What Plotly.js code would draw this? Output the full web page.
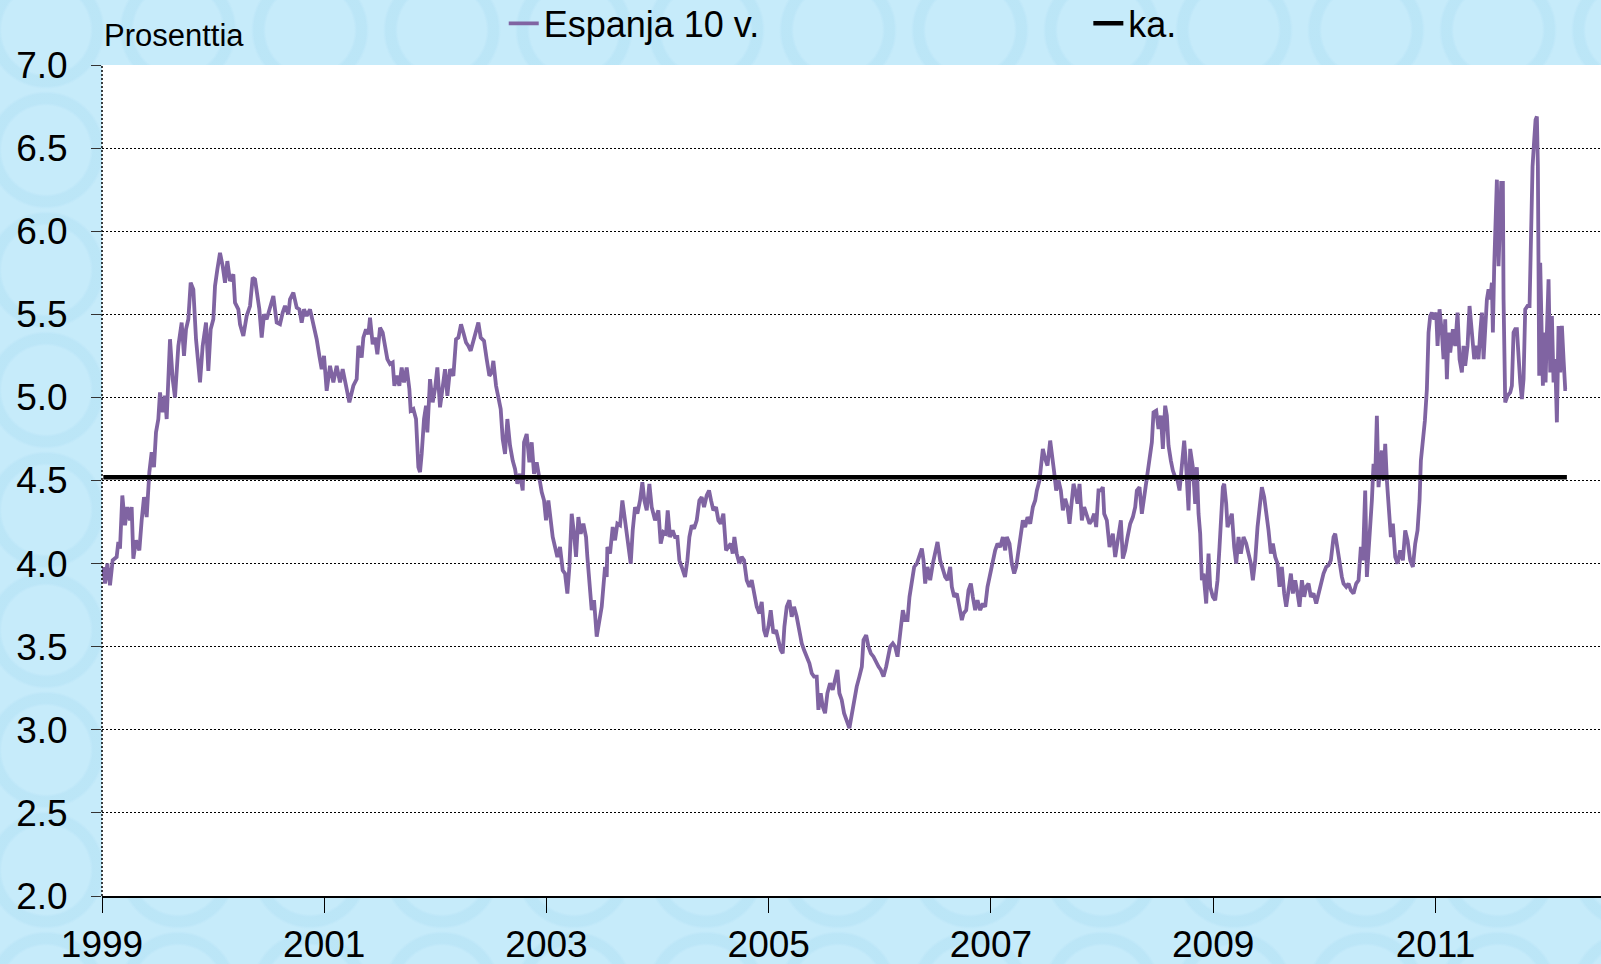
<!DOCTYPE html>
<html>
<head>
<meta charset="utf-8">
<script src="https://cdn.plot.ly/plotly-3.0.1.min.js"></script>
<style>
  html, body { margin: 0; padding: 0; }
  body {
    background-color: #c6ebfa;
    background-image:
      radial-gradient(circle at 50% 50%, rgba(0,0,0,0) 44px, rgba(160,215,240,0.28) 47px, rgba(160,215,240,0.28) 56px, rgba(0,0,0,0) 59px);
    background-size: 132px 120px;
    background-position: -20px -30px;
  }
  #chart { width: 1601px; height: 964px; }
</style>
</head>
<body>
<div id="chart"></div>
<script>
// ---- Data: Spanish 10-year government bond yield (%) ----
const seriesName = "Espanja 10 v.";
const avgName = "ka.";
const avgValue = 4.52;
const yAxisLabel = "Prosenttia";
const xTickYears = [1999, 2001, 2003, 2005, 2007, 2009, 2011];
const yTickValues = [2.0, 2.5, 3.0, 3.5, 4.0, 4.5, 5.0, 5.5, 6.0, 6.5, 7.0];

// 1999 – early 2001
const years1 = [1999.012,1999.027,1999.048,1999.072,1999.096,1999.132,1999.147,1999.162,1999.183,1999.207,
  1999.228,1999.252,1999.267,1999.282,1999.306,1999.336,1999.357,1999.378,1999.402,1999.426,
  1999.447,1999.468,1999.486,1999.507,1999.522,1999.546,1999.567,1999.582,1999.612,1999.636,
  1999.657,1999.687,1999.717,1999.738,1999.756,1999.777,1999.798,1999.822,1999.846,1999.882,
  1999.906,1999.936,1999.957,1999.978,2000.002,2000.017,2000.038,2000.062,2000.086,2000.107,
  2000.128,2000.152,2000.182,2000.197,2000.227,2000.242,2000.272,2000.302,2000.332,2000.356,
  2000.377,2000.398,2000.416,2000.437,2000.458,2000.482,2000.512,2000.542,2000.572,2000.602,
  2000.626,2000.647,2000.677,2000.692,2000.722,2000.752,2000.776,2000.797,2000.818,2000.842,
  2000.872,2000.902,2000.932,2000.956,2000.977,2000.998,2001.022,2001.052,2001.082,2001.112,
  2001.142,2001.166,2001.196,2001.226];
const values1 = [3.98,3.88,4.00,3.87,4.02,4.04,4.13,4.09,4.41,4.23,
  4.34,4.26,4.34,4.03,4.14,4.08,4.26,4.40,4.28,4.55,
  4.67,4.58,4.79,4.87,5.03,4.91,5.01,4.87,5.35,5.11,
  5.00,5.31,5.45,5.25,5.41,5.47,5.69,5.65,5.35,5.09,
  5.31,5.45,5.16,5.41,5.47,5.67,5.77,5.87,5.79,5.69,
  5.82,5.70,5.74,5.57,5.53,5.44,5.37,5.49,5.55,5.72,
  5.71,5.59,5.53,5.36,5.50,5.47,5.55,5.61,5.45,5.44,
  5.51,5.55,5.50,5.59,5.63,5.54,5.53,5.45,5.53,5.49,
  5.53,5.44,5.35,5.25,5.17,5.25,5.04,5.19,5.09,5.19,
  5.09,5.17,5.07,4.97];

// 2001 – mid 2003
const years2 = [2001.262,2001.292,2001.307,2001.337,2001.352,2001.376,2001.397,2001.412,2001.436,2001.457,
  2001.478,2001.502,2001.526,2001.547,2001.568,2001.592,2001.616,2001.631,2001.652,2001.676,
  2001.697,2001.718,2001.742,2001.766,2001.778,2001.802,2001.826,2001.847,2001.862,2001.877,
  2001.898,2001.916,2001.928,2001.952,2001.976,2001.997,2002.018,2002.042,2002.066,2002.087,
  2002.108,2002.132,2002.162,2002.186,2002.207,2002.231,2002.252,2002.276,2002.297,2002.318,
  2002.342,2002.366,2002.387,2002.408,2002.438,2002.462,2002.486,2002.507,2002.522,2002.546,
  2002.567,2002.588,2002.606,2002.627,2002.648,2002.672,2002.696,2002.717,2002.738,2002.762,
  2002.786,2002.798,2002.822,2002.846,2002.867,2002.888,2002.912,2002.936,2002.957,2002.978,
  2002.996,2003.017,2003.032,2003.056,2003.077,2003.098,2003.122,2003.146,2003.167,2003.188,
  2003.206,2003.227,2003.248,2003.266,2003.287,2003.308,2003.332,2003.356,2003.368,2003.392,
  2003.407,2003.428,2003.452];
const values2 = [5.07,5.11,5.31,5.24,5.36,5.41,5.38,5.48,5.32,5.36,
  5.26,5.42,5.39,5.31,5.23,5.20,5.21,5.07,5.13,5.07,
  5.18,5.09,5.18,5.05,4.92,4.93,4.87,4.58,4.55,4.66,
  4.87,4.95,4.79,5.11,4.97,5.05,5.18,4.94,5.09,5.17,
  5.01,5.17,5.13,5.35,5.36,5.44,5.39,5.33,5.31,5.28,
  5.34,5.41,5.45,5.36,5.34,5.23,5.13,5.15,5.22,5.07,
  5.01,4.93,4.75,4.66,4.87,4.71,4.62,4.57,4.48,4.54,
  4.44,4.73,4.78,4.61,4.73,4.54,4.61,4.50,4.43,4.38,
  4.26,4.38,4.30,4.16,4.10,4.04,4.10,3.96,3.94,3.82,
  3.98,4.30,4.18,4.04,4.28,4.18,4.24,4.16,4.04,3.84,
  3.72,3.78,3.56];

// mid 2003 – late 2005
const years3 = [2003.497,2003.512,2003.527,2003.542,2003.548,2003.572,2003.596,2003.617,2003.638,2003.662,
  2003.683,2003.707,2003.722,2003.737,2003.758,2003.776,2003.797,2003.818,2003.842,2003.863,
  2003.881,2003.902,2003.926,2003.947,2003.977,2004.007,2004.028,2004.052,2004.076,2004.091,
  2004.112,2004.136,2004.157,2004.178,2004.196,2004.217,2004.247,2004.268,2004.286,2004.307,
  2004.328,2004.352,2004.376,2004.397,2004.418,2004.442,2004.463,2004.481,2004.502,2004.526,
  2004.547,2004.568,2004.592,2004.616,2004.637,2004.658,2004.676,2004.691,2004.712,2004.736,
  2004.757,2004.778,2004.802,2004.826,2004.847,2004.868,2004.892,2004.916,2004.937,2004.958,
  2004.976,2004.997,2005.018,2005.042,2005.066,2005.087,2005.108,2005.126,2005.141,2005.162,
  2005.186,2005.207,2005.228,2005.252,2005.276,2005.297,2005.318,2005.342,2005.366,2005.387,
  2005.408,2005.432,2005.447,2005.468,2005.486,2005.507,2005.528,2005.552,2005.576,2005.597,
  2005.618,2005.636,2005.657,2005.678,2005.702,2005.726,2005.747,2005.768,2005.792,2005.816];
const values3 = [3.74,3.90,3.98,3.92,4.10,4.06,4.22,4.14,4.24,4.23,
  4.38,4.26,4.18,4.10,4.00,4.20,4.34,4.30,4.38,4.49,
  4.38,4.32,4.48,4.34,4.26,4.32,4.12,4.19,4.18,4.32,
  4.16,4.20,4.16,4.16,4.02,3.98,3.92,4.02,4.16,4.23,
  4.21,4.26,4.38,4.40,4.34,4.41,4.44,4.38,4.32,4.34,
  4.26,4.24,4.30,4.08,4.10,4.12,4.06,4.16,4.06,4.00,
  4.04,4.02,3.90,3.86,3.90,3.82,3.74,3.70,3.77,3.60,
  3.56,3.62,3.72,3.58,3.60,3.54,3.48,3.46,3.62,3.74,
  3.78,3.68,3.74,3.68,3.60,3.52,3.48,3.44,3.40,3.34,
  3.32,3.32,3.12,3.22,3.14,3.10,3.22,3.28,3.24,3.30,
  3.36,3.22,3.18,3.10,3.06,3.01,3.09,3.18,3.26,3.32];

// late 2005 – early 2008
const years4 = [2005.838,2005.853,2005.877,2005.898,2005.919,2005.943,2005.967,2005.988,2006.009,2006.033,
  2006.057,2006.078,2006.093,2006.117,2006.138,2006.159,2006.183,2006.207,2006.228,2006.249,
  2006.267,2006.288,2006.309,2006.333,2006.357,2006.378,2006.393,2006.408,2006.429,2006.453,
  2006.477,2006.498,2006.519,2006.543,2006.567,2006.588,2006.609,2006.633,2006.648,2006.669,
  2006.693,2006.717,2006.738,2006.753,2006.777,2006.798,2006.819,2006.837,2006.858,2006.879,
  2006.903,2006.927,2006.948,2006.969,2006.993,2007.017,2007.038,2007.059,2007.083,2007.107,
  2007.128,2007.143,2007.167,2007.188,2007.209,2007.227,2007.248,2007.269,2007.287,2007.308,
  2007.329,2007.353,2007.377,2007.398,2007.413,2007.437,2007.449,2007.467,2007.488,2007.509,
  2007.533,2007.548,2007.569,2007.587,2007.608,2007.629,2007.647,2007.668,2007.689,2007.707,
  2007.728,2007.743,2007.758,2007.779,2007.797,2007.818,2007.839,2007.863,2007.887,2007.908,
  2007.929,2007.947,2007.968,2007.989,2008.007,2008.019,2008.043,2008.067];
const values4 = [3.38,3.54,3.57,3.50,3.46,3.44,3.40,3.38,3.36,3.32,
  3.38,3.44,3.50,3.52,3.50,3.44,3.60,3.72,3.66,3.66,
  3.80,3.90,3.98,4.00,4.04,4.09,4.02,3.88,3.98,3.90,
  4.00,4.08,4.13,4.02,3.96,3.92,3.90,3.98,3.86,3.80,
  3.82,3.74,3.66,3.70,3.72,3.84,3.88,3.80,3.72,3.78,
  3.72,3.76,3.74,3.86,3.94,4.00,4.08,4.12,4.10,4.16,
  4.08,4.16,4.12,4.00,3.94,3.98,4.08,4.14,4.26,4.22,
  4.28,4.24,4.34,4.38,4.44,4.50,4.59,4.69,4.63,4.59,
  4.74,4.67,4.55,4.44,4.50,4.44,4.32,4.39,4.34,4.24,
  4.38,4.48,4.44,4.36,4.48,4.26,4.34,4.28,4.24,4.26,
  4.30,4.22,4.44,4.44,4.46,4.30,4.26,4.10];

// 2008 – mid 2010
const years5 = [2008.097,2008.118,2008.139,2008.157,2008.169,2008.187,2008.208,2008.229,2008.253,2008.277,
  2008.298,2008.313,2008.337,2008.358,2008.379,2008.403,2008.427,2008.448,2008.463,2008.487,
  2008.508,2008.529,2008.547,2008.568,2008.583,2008.598,2008.619,2008.637,2008.658,2008.679,
  2008.697,2008.718,2008.739,2008.757,2008.778,2008.793,2008.817,2008.838,2008.853,2008.868,
  2008.883,2008.898,2008.913,2008.937,2008.958,2008.973,2008.997,2009.018,2009.039,2009.057,
  2009.069,2009.087,2009.099,2009.117,2009.129,2009.153,2009.168,2009.189,2009.207,2009.228,
  2009.249,2009.273,2009.297,2009.318,2009.339,2009.357,2009.378,2009.399,2009.417,2009.438,
  2009.459,2009.477,2009.498,2009.519,2009.537,2009.558,2009.579,2009.597,2009.618,2009.639,
  2009.657,2009.678,2009.699,2009.717,2009.738,2009.759,2009.777,2009.798,2009.819,2009.837,
  2009.858,2009.879,2009.903,2009.927,2009.948,2009.969,2009.993,2010.017,2010.038,2010.059,
  2010.083,2010.098,2010.119,2010.137,2010.158,2010.173,2010.197,2010.218,2010.239,2010.263,
  2010.287,2010.308,2010.329];
const values5 = [4.18,4.04,4.14,4.20,4.26,4.03,4.08,4.16,4.24,4.28,
  4.34,4.44,4.46,4.30,4.40,4.50,4.62,4.73,4.91,4.92,
  4.81,4.89,4.69,4.95,4.89,4.71,4.62,4.56,4.52,4.50,
  4.44,4.58,4.74,4.58,4.32,4.69,4.58,4.36,4.58,4.30,
  4.18,3.90,3.94,3.76,4.06,3.86,3.80,3.78,3.90,4.10,
  4.30,4.46,4.48,4.36,4.22,4.26,4.30,4.10,4.00,4.16,
  4.06,4.16,4.12,4.06,4.00,3.90,4.02,4.22,4.34,4.46,
  4.40,4.32,4.20,4.06,4.12,4.04,4.00,3.86,3.98,3.82,
  3.74,3.84,3.94,3.82,3.90,3.82,3.74,3.90,3.80,3.86,
  3.88,3.80,3.82,3.76,3.82,3.86,3.94,3.98,3.99,4.02,
  4.16,4.18,4.08,4.00,3.92,3.88,3.86,3.88,3.84,3.82,
  3.88,3.90,4.10];

// mid 2010 – early 2012
const years6 = [2010.347,2010.368,2010.383,2010.398,2010.413,2010.428,2010.443,2010.458,2010.473,2010.488,
  2010.503,2010.518,2010.533,2010.548,2010.563,2010.578,2010.599,2010.617,2010.638,2010.659,
  2010.683,2010.707,2010.728,2010.749,2010.773,2010.797,2010.818,2010.839,2010.857,2010.869,
  2010.887,2010.905,2010.923,2010.938,2010.953,2010.968,2010.989,2011.007,2011.019,2011.037,
  2011.058,2011.073,2011.088,2011.103,2011.118,2011.133,2011.157,2011.178,2011.199,2011.217,
  2011.238,2011.253,2011.268,2011.289,2011.307,2011.328,2011.349,2011.367,2011.388,2011.403,
  2011.418,2011.433,2011.448,2011.463,2011.478,2011.493,2011.508,2011.517,2011.529,2011.538,
  2011.553,2011.568,2011.583,2011.592,2011.607,2011.613,2011.628,2011.649,2011.673,2011.688,
  2011.703,2011.718,2011.733,2011.748,2011.763,2011.778,2011.793,2011.808,2011.829,2011.847,
  2011.859,2011.874,2011.889,2011.901,2011.913,2011.922,2011.934,2011.943,2011.958,2011.967,
  2011.979,2011.991,2012.003,2012.018,2012.033,2012.048,2012.063,2012.078,2012.093,2012.108,
  2012.123,2012.138,2012.153,2012.168,2012.183];
const values6 = [4.02,4.44,3.92,4.06,4.22,4.38,4.60,4.52,4.89,4.46,
  4.60,4.68,4.50,4.72,4.50,4.36,4.16,4.24,4.04,4.00,
  4.08,4.02,4.20,4.14,4.02,3.98,4.12,4.20,4.38,4.62,
  4.72,4.86,5.05,5.39,5.49,5.51,5.47,5.51,5.31,5.53,
  5.39,5.23,5.47,5.11,5.39,5.27,5.41,5.31,5.51,5.23,
  5.15,5.31,5.19,5.31,5.55,5.39,5.23,5.31,5.23,5.39,
  5.51,5.23,5.41,5.59,5.65,5.59,5.69,5.39,5.79,6.03,
  6.31,5.79,6.03,6.29,6.29,5.59,4.97,5.01,5.03,5.07,
  5.39,5.41,5.41,5.23,5.09,4.99,5.11,5.53,5.55,5.55,
  5.89,6.39,6.55,6.67,6.69,6.39,5.13,5.81,5.33,5.07,
  5.39,5.09,5.39,5.71,5.15,5.49,5.09,5.23,4.85,5.43,
  5.15,5.43,5.23,5.05,5.05];

const years = [].concat(years1, years2, years3, years4, years5, years6);
const yields = [].concat(values1, values2, values3, values4, values5, values6);

// ---- Styling ----
const sans = "'Liberation Sans', Arial, sans-serif";
const purple = "#8064A2";

const traces = [
  {
    type: "scatter", mode: "lines", name: seriesName,
    x: years, y: yields,
    line: { color: purple, width: 3.8 },
    legend: "legend",
    hoverinfo: "x+y"
  },
  {
    type: "scatter", mode: "lines", name: avgName,
    x: [years[0], years[years.length - 1]], y: [avgValue, avgValue],
    line: { color: "#000000", width: 4.5 },
    legend: "legend2",
    hoverinfo: "y"
  }
];

const layout = {
  width: 1601, height: 964,
  margin: { l: 102, r: 0, t: 65, b: 68, pad: 0, autoexpand: false },
  paper_bgcolor: "rgba(0,0,0,0)",
  plot_bgcolor: "#ffffff",
  font: { family: sans, color: "#000000", size: 37 },
  showlegend: true,
  legend: {
    orientation: "h", x: 0.268, y: 1.05, xanchor: "left", yanchor: "middle",
    bgcolor: "rgba(0,0,0,0)", font: { family: sans, size: 36, color: "#000" },
    itemwidth: 30
  },
  legend2: {
    orientation: "h", x: 0.658, y: 1.05, xanchor: "left", yanchor: "middle",
    bgcolor: "rgba(0,0,0,0)", font: { family: sans, size: 36, color: "#000" },
    itemwidth: 30
  },
  xaxis: {
    type: "linear",
    range: [1999, 2012.49],
    tickmode: "array",
    tickvals: xTickYears,
    ticktext: xTickYears.map(String),
    ticks: "outside", ticklen: 15, tickwidth: 1, tickcolor: "#000",
    showline: true, linecolor: "#000", linewidth: 2,
    showgrid: false, zeroline: false,
    tickfont: { family: sans, size: 37, color: "#000" },
    ticklabelstandoff: 0,
    fixedrange: true
  },
  yaxis: {
    range: [2, 7],
    tickmode: "array",
    tickvals: yTickValues,
    ticktext: yTickValues.map(v => v.toFixed(1)),
    ticks: "outside", ticklen: 10, tickwidth: 1, tickcolor: "#333",
    showline: false,
    showgrid: true, gridcolor: "#000", gridwidth: 1, griddash: "2px,2px",
    zeroline: false,
    tickfont: { family: sans, size: 37, color: "#000" },
    ticklabelstandoff: 16,
    fixedrange: true
  },
  shapes: [
    { type: "line", xref: "paper", yref: "paper", x0: 0, x1: 0, y0: 0, y1: 1,
      line: { color: "#000", width: 1.5, dash: "2px,2px" }, layer: "above" }
  ],
  annotations: [
    { text: yAxisLabel, xref: "paper", yref: "paper", x: 0, y: 1.036,
      xanchor: "left", yanchor: "middle", showarrow: false,
      font: { family: sans, size: 31, color: "#000" } }
  ]
};

Plotly.newPlot("chart", traces, layout, { displayModeBar: false, staticPlot: true });
</script>
</body>
</html>
